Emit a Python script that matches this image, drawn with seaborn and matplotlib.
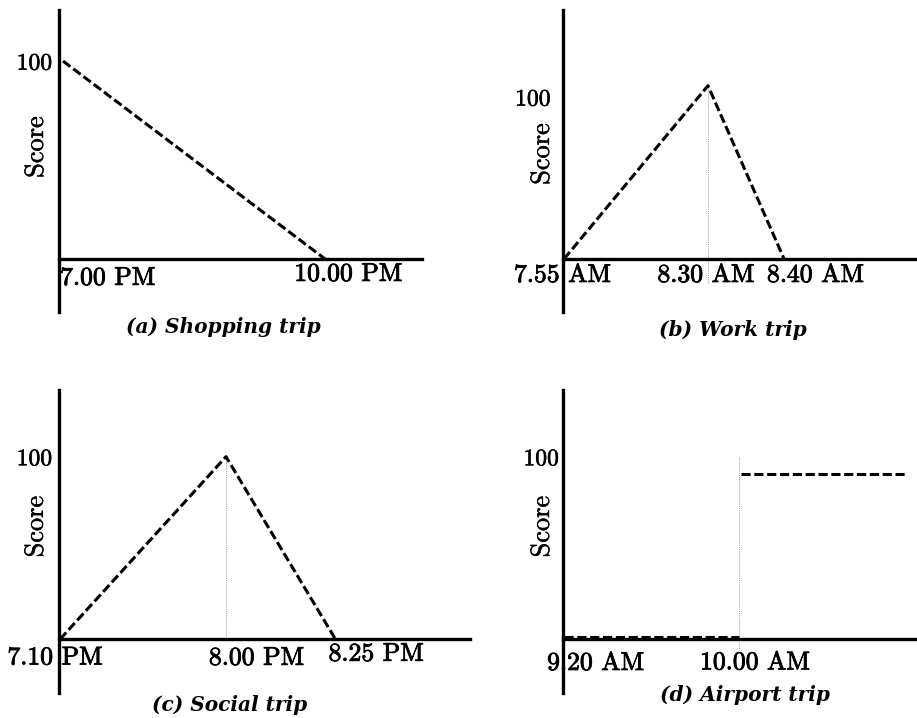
import matplotlib
matplotlib.use('Agg')
import matplotlib.pyplot as plt
import matplotlib.patheffects as pe
import seaborn as sns

# (a) Shopping trip: score falls from 100 at 7 PM to 0 at 10 PM (x in minutes after 7 PM)
shop_x = [0, 180]
shop_y = [100, 0]
shop_ticks = ['7.00 PM', '10.00 PM']

# (b) Work trip: axis is schematic, x are positions as drawn
work_x = [0, 35, 53.5]
work_y = [0, 107, 0]
work_ticks = ['7.55 AM', '8.30 AM', '8.40 AM']

# (c) Social trip
social_x = [0, 50, 83]
social_y = [0, 100, 0]
social_ticks = ['7.10 PM', '8.00 PM', '8.25 PM']

# (d) Airport trip: step up at 10.00 AM
airport_low_x = [0, 40]
airport_low_y = [1.5, 1.5]
airport_high_x = [40.5, 78]
airport_high_y = [90.5, 90.5]
airport_ticks = ['9.20 AM', '10.00 AM']

captions = ['(a) Shopping trip', '(b) Work trip', '(c) Social trip', '(d) Airport trip']

sns.set_theme(style='white')
plt.rcParams['font.family'] = ['cmr10', 'DejaVu Serif']
plt.rcParams['axes.unicode_minus'] = False
for k in ['text.color', 'axes.labelcolor', 'xtick.color', 'ytick.color']:
    plt.rcParams[k] = 'black'

W, H = 917, 718
fig = plt.figure(figsize=(W / 100, H / 100), dpi=100)
fig.patch.set_facecolor('white')

AXIS_LW = 2.4
DASH = (0, (3, 1.2))
# slight stroke so the thin cmr10 glyphs look like the printed original
THICK = [pe.withStroke(linewidth=0.6, foreground='black')]


def px_axes(left, top, right, bottom):
    return fig.add_axes([left / W, 1 - bottom / H, (right - left) / W, (bottom - top) / H])


def style_axes(ax, xlim, ylim, ypad):
    ax.set_xlim(*xlim)
    ax.set_ylim(*ylim)
    ax.set_facecolor('none')
    for s in ['top', 'right']:
        ax.spines[s].set_visible(False)
    ax.spines['left'].set_linewidth(AXIS_LW)
    ax.spines['left'].set_color('black')
    ax.spines['bottom'].set_position(('data', 0))
    ax.spines['bottom'].set_linewidth(AXIS_LW)
    ax.spines['bottom'].set_color('black')
    ax.set_xticks([])
    ax.set_yticks([100], ['100'])
    ax.tick_params(axis='y', length=0, pad=ypad, labelsize=17, labelcolor='black')
    for t in ax.get_yticklabels():
        t.set_fontfamily('cmr10')
        t.set_path_effects([pe.withStroke(linewidth=0.4, foreground='black')])
    ax.set_xlabel('')
    ax.set_ylabel('')
    ax.grid(False)


def dashed(ax, x, y):
    sns.lineplot(x=x, y=y, ax=ax, color='black', linewidth=2.2, linestyle=DASH,
                 estimator=None, sort=False)


def guide(ax, x, y0, y1):
    ax.plot([x, x], [y0, y1], color='#a0a0a0', linewidth=0.7, linestyle=(0, (1, 1)))


def tick_text(ax, x, y, s, ha='center'):
    ax.text(x, y, s, ha=ha, va='center', fontsize=18.5, color='black',
            family=['cmr10', 'DejaVu Serif'], path_effects=THICK)


def side_texts(ax, score_xy, cap_xy, cap):
    ax.text(score_xy[0], score_xy[1], 'Score', rotation=90, ha='center', va='center',
            fontsize=19, color='black', transform=ax.transAxes,
            family=['cmr10', 'DejaVu Serif'],
            path_effects=[pe.withStroke(linewidth=0.3, foreground='black')])
    ax.text(cap_xy[0], cap_xy[1], cap, ha='center', va='center', fontsize=14.5,
            color='black', fontweight='bold', fontstyle='italic', family='DejaVu Serif',
            transform=ax.transAxes, clip_on=False)


# (a)
ax = px_axes(59, 10, 422, 312)
style_axes(ax, (-2.75, 246.6), (-26.8, 125.8), 5)
dashed(ax, shop_x, shop_y)
tick_text(ax, -2, -9.6, shop_ticks[0], ha='left')
tick_text(ax, 196, -7.6, shop_ticks[1])
side_texts(ax, (-0.063, 0.546), (0.452, -0.05), captions[0])

# (b)
ax = px_axes(563, 10, 917, 312)
style_axes(ax, (-0.24, 85.8), (-32.7, 153.7), 9)
guide(ax, work_x[1], work_y[1], -14.8)
dashed(ax, work_x, work_y)
tick_text(ax, -0.4, -9.9, work_ticks[0])
tick_text(ax, 34.5, -9.9, work_ticks[1])
tick_text(ax, 61.1, -9.9, work_ticks[2])
side_texts(ax, (-0.059, 0.523), (0.48, -0.06), captions[1])

# (c)
ax = px_axes(59, 390, 470, 693)
style_axes(ax, (-0.3, 123.5), (-29.4, 136.5), 5)
guide(ax, social_x[1], social_y[1], 0)
dashed(ax, social_x, social_y)
tick_text(ax, -1.5, -10.0, social_ticks[0])
tick_text(ax, 59.2, -10.2, social_ticks[1])
tick_text(ax, 95.2, -8.0, social_ticks[2])
side_texts(ax, (-0.056, 0.549), (0.414, -0.04), captions[2])

# (d)
ax = px_axes(563, 390, 917, 693)
style_axes(ax, (-0.23, 80.6), (-29.4, 136.5), 3)
guide(ax, airport_low_x[1], 100, -5.9)
dashed(ax, airport_low_x, airport_low_y)
dashed(ax, airport_high_x, airport_high_y)
tick_text(ax, 7.2, -13.0, airport_ticks[0])
tick_text(ax, 43.6, -12.7, airport_ticks[1])
side_texts(ax, (-0.059, 0.549), (0.514, -0.007), captions[3])

fig.savefig('out.png', dpi=100, facecolor='white')
